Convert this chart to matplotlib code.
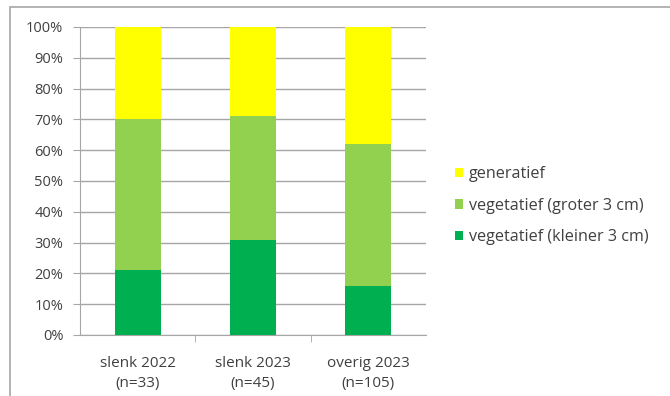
import numpy as np
import matplotlib.pyplot as plt
from matplotlib.patches import Rectangle
from matplotlib.ticker import PercentFormatter

plt.rcParams['font.family'] = ['Open Sans', 'DejaVu Sans']

categories = ["slenk 2022\n(n=33)", "slenk 2023\n(n=45)", "overig 2023\n(n=105)"]
klein = [21, 31, 16]        # vegetatief (kleiner 3 cm)
groot = [49, 40, 46]        # vegetatief (groter 3 cm)
generatief = [30, 29, 38]   # generatief

fig = plt.figure(figsize=(6.7, 3.96), dpi=100)
ax = fig.add_axes([80 / 670, 61 / 396, 346 / 670, 308 / 396])

x = np.arange(len(categories))
w = 0.4
b1 = ax.bar(x, klein, w, color="#00B050", label="vegetatief (kleiner 3 cm)", zorder=3)
b2 = ax.bar(x, groot, w, bottom=klein, color="#92D050",
            label="vegetatief (groter 3 cm)", zorder=3)
bottom3 = np.array(klein) + np.array(groot)
b3 = ax.bar(x, generatief, w, bottom=bottom3, color="#FFFF00",
            label="generatief", zorder=3)

ax.set_xlim(-0.5, 2.5)
ax.set_ylim(0, 100)
ax.set_yticks(np.arange(0, 101, 10))
ax.yaxis.set_major_formatter(PercentFormatter(decimals=0))
ax.grid(axis="y", color="#a6a6a6", linewidth=1, zorder=0)

ax.set_xticks(x)
ax.set_xticklabels(categories, fontsize=11, color="#404040", linespacing=1.45)
ax.set_xticks([0.5, 1.5], minor=True)
ax.tick_params(axis="x", which="major", length=0, pad=15)
ax.tick_params(axis="x", which="minor", length=5, color="#a6a6a6")
ax.tick_params(axis="y", length=5, color="#a6a6a6", labelsize=10.5,
               labelcolor="#404040", pad=7)

for side in ["top", "right"]:
    ax.spines[side].set_visible(False)
for side in ["left", "bottom"]:
    ax.spines[side].set_color("#a6a6a6")

handles = [b3, b2, b1]
ax.legend(handles, [h.get_label() for h in handles], loc="center left",
          bbox_to_anchor=(1.085, 0.42), frameon=False, fontsize=11.6,
          handlelength=0.5, handleheight=0.5, handletextpad=0.35,
          labelspacing=0.95, labelcolor="#404040", borderpad=0, borderaxespad=0)

# outer chart frame
fig.patches.append(Rectangle((10 / 670, -0.01), 1.0, 1 - 7 / 396 + 0.01,
                             transform=fig.transFigure, fill=False,
                             edgecolor="#a6a6a6", linewidth=1.2))

fig.savefig("out.png", dpi=100)
